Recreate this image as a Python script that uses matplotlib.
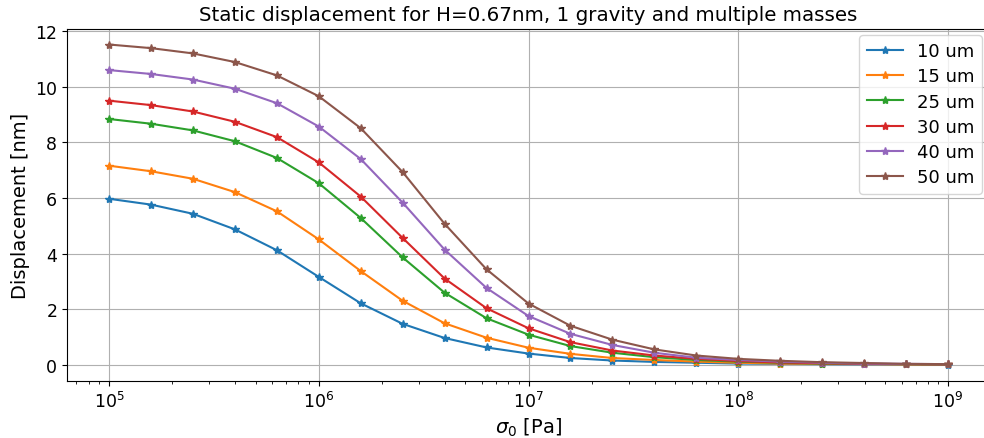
import numpy as np
import matplotlib
matplotlib.use("Agg")
import matplotlib.pyplot as plt

sigma0 = [1e5, 1.585e5, 2.512e5, 3.981e5, 6.310e5,
          1e6, 1.585e6, 2.512e6, 3.981e6, 6.310e6,
          1e7, 1.585e7, 2.512e7, 3.981e7, 6.310e7,
          1e8, 1.585e8, 2.512e8, 3.981e8, 6.310e8, 1e9]

labels = ["10 um", "15 um", "25 um", "30 um", "40 um", "50 um"]

d10 = [5.97, 5.76, 5.43, 4.87, 4.12, 3.16, 2.21, 1.47, 0.96, 0.62, 0.40,
       0.24, 0.15, 0.10, 0.07, 0.04, 0.03, 0.02, 0.01, 0.01, 0.00]
d15 = [7.16, 6.96, 6.69, 6.21, 5.52, 4.51, 3.37, 2.30, 1.49, 0.97, 0.61,
       0.39, 0.24, 0.17, 0.11, 0.07, 0.04, 0.03, 0.02, 0.01, 0.01]
d25 = [8.84, 8.67, 8.43, 8.04, 7.44, 6.53, 5.28, 3.86, 2.59, 1.67, 1.08,
       0.67, 0.43, 0.27, 0.17, 0.11, 0.07, 0.04, 0.03, 0.02, 0.01]
d30 = [9.50, 9.34, 9.11, 8.74, 8.19, 7.28, 6.05, 4.56, 3.10, 2.03, 1.31,
       0.81, 0.51, 0.33, 0.21, 0.13, 0.08, 0.05, 0.03, 0.02, 0.01]
d40 = [10.60, 10.46, 10.26, 9.93, 9.41, 8.57, 7.40, 5.83, 4.14, 2.76, 1.75,
       1.11, 0.71, 0.43, 0.25, 0.17, 0.11, 0.07, 0.04, 0.03, 0.02]
d50 = [11.52, 11.39, 11.20, 10.89, 10.41, 9.66, 8.51, 6.93, 5.07, 3.43, 2.20,
       1.40, 0.90, 0.55, 0.33, 0.21, 0.14, 0.09, 0.06, 0.03, 0.02]

series = [d10, d15, d25, d30, d40, d50]

fig = plt.figure(figsize=(9.84, 4.39), dpi=100)
ax_left, ax_right, ax_top, ax_bottom = 67, 990, 29.5, 381.7
ax = fig.add_axes([ax_left/984, 1 - ax_bottom/439, (ax_right - ax_left)/984, (ax_bottom - ax_top)/439])

for lab, d in zip(labels, series):
    ax.plot(sigma0, d, marker='*', markersize=6, linewidth=1.5, label=lab)

ax.set_xscale('log')
ax.grid(True, which='major', color='#b0b0b0', linewidth=0.8)
ax.set_title("Static displacement for H=0.67nm, 1 gravity and multiple masses", fontsize=14.3)
ax.set_xlabel(r"$\sigma_0$ [Pa]", fontsize=14)
ax.set_ylabel("Displacement [nm]", fontsize=14)
ax.tick_params(axis='both', labelsize=12.5)
ax.set_yticks([0, 2, 4, 6, 8, 10, 12])
ax.legend(loc='upper right', fontsize=13, labelspacing=0.4, borderaxespad=0,
          bbox_to_anchor=((982 - ax_left) / (ax_right - ax_left), 1 - (36 - ax_top) / (ax_bottom - ax_top)))

fig.savefig("out.png", dpi=100)
